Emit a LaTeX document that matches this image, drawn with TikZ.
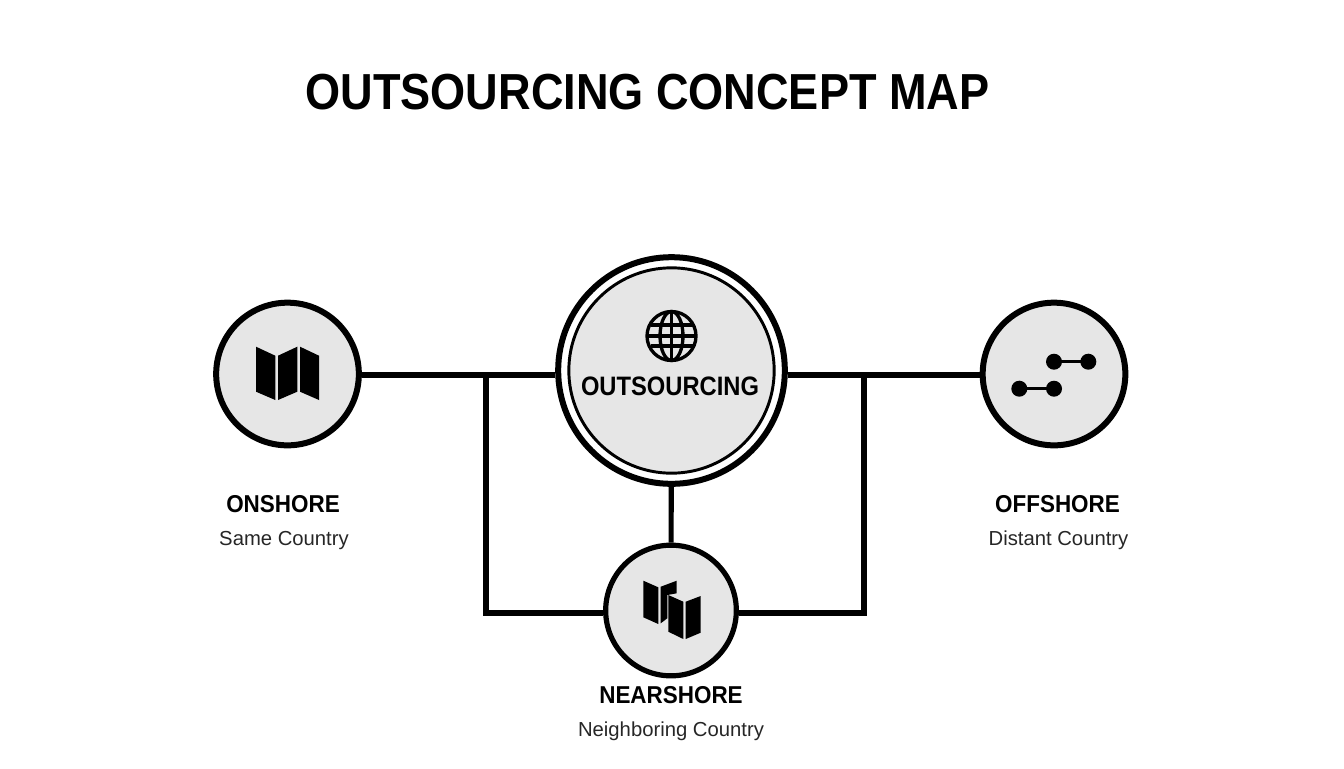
\documentclass[tikz,border=0pt]{standalone}
\usepackage{fontspec}
\setmainfont{Liberation Sans}
\newfontfamily\headfont[FakeStretch=0.92]{Liberation Sans}
\newfontfamily\titlefont[FakeStretch=0.89]{Liberation Sans}
\definecolor{hubgray}{HTML}{E6E6E6}
\tikzset{
  link/.style={line width=3.8pt},
  hub/.style={circle,draw,fill=hubgray,line width=4.5pt,minimum size=107pt,inner sep=0pt},
  nearhub/.style={hub,line width=3.9pt,minimum size=98pt},
  ringin/.style={circle,draw,fill=hubgray,line width=2.2pt,minimum size=154pt,inner sep=0pt},
  ringout/.style={circle,draw,fill=white,line width=4.5pt,minimum size=170pt,inner sep=0pt},
  tag/.style={font=\headfont\bfseries\fontsize{18.3}{20}\selectfont,inner sep=0pt,anchor=base},
  sub/.style={font=\fontsize{15.2}{17}\selectfont,text=black!85,inner sep=0pt,anchor=base},
}
\begin{document}
\begin{tikzpicture}[x=.75pt,y=-.75pt]
    \useasboundingbox (0,0) rectangle (1344,768);
    \node[font=\titlefont\bfseries\fontsize{38}{40}\selectfont,inner sep=0pt](title) at (647.5,92){OUTSOURCING CONCEPT MAP};
    \coordinate (lj) at (486,375);
    \coordinate (rj) at (864,375);
    \coordinate (lb) at (486,613);
    \coordinate (rb) at (864,613);
    \node[hub](on) at (287.5,374){};
    \node[hub](off) at (1054,374){};
    \node[nearhub](near) at (671,610.5){};
    \node[ringout](out) at (671.5,370.5){};
    \node[ringin](outin) at (out){};
    \draw[link] (on.east |- lj) -- (lj) -- (out.west |- lj);
    \draw[link] (off.west |- rj) -- (rj) -- (out.east |- rj);
    \draw[link] (lj) -- (lb) -- (near.west |- lb);
    \draw[link] (rj) -- (rb) -- (near.east |- rb);
    \draw[link] (out) -- (near);
    % globe
    \begin{scope}[line width=2.5pt]
      \draw (671.5,336) circle (24.5);
      \draw (671.5,336) ellipse (11.5 and 24.5);
      \draw (671.5,311.5) -- (671.5,360.5);
      \draw (647,336) -- (696,336);
      \draw (650.5,325) -- (692.5,325);
      \draw (650.5,346) -- (692.5,346);
    \end{scope}
    \node[font=\titlefont\bfseries\fontsize{20}{22}\selectfont,inner sep=0pt,anchor=base](outtxt) at (670,395){OUTSOURCING};
    % left map
    \fill (256,346.7) -- (275.3,355.7) -- (275.3,400) -- (256,391.7) -- cycle;
    \fill (278,355.7) -- (297.3,346.7) -- (297.3,391.7) -- (278,400) -- cycle;
    \fill (300,346.7) -- (319,355.7) -- (319,400) -- (300,391.7) -- cycle;
    % two maps
    \fill (643.3,580.7) -- (658.3,587.3) -- (658.3,624) -- (643.3,617.3) -- cycle;
    \fill (660.7,586.7) -- (676.7,580.7) -- (676.7,593.3) -- (667.3,595) -- (667.3,618.3) -- (660.7,623.3) -- cycle;
    \fill (668.3,595) -- (683.3,601.7) -- (683.3,639) -- (668.3,631.7) -- cycle;
    \fill (685.7,601.7) -- (700.7,596) -- (700.7,632.7) -- (685.7,639) -- cycle;
    % dots
    \foreach \xa/\xb/\ya in {1054/1088.3/361.7,1019.3/1054/388.7}{
      \draw[line width=1.9pt] (\xa,\ya) -- (\xb,\ya);
      \fill (\xa,\ya) circle (8);
      \fill (\xb,\ya) circle (8);
    }
    \node[tag](ontag) at (283,512){ONSHORE};
    \node[sub](onsub) at (284,545){Same Country};
    \node[tag](offtag) at (1057.5,512){OFFSHORE};
    \node[sub](offsub) at (1058.5,545){Distant Country};
    \node[tag](neartag) at (671,703){NEARSHORE};
    \node[sub](nearsub) at (671,736){Neighboring Country};
\end{tikzpicture}
\end{document}
